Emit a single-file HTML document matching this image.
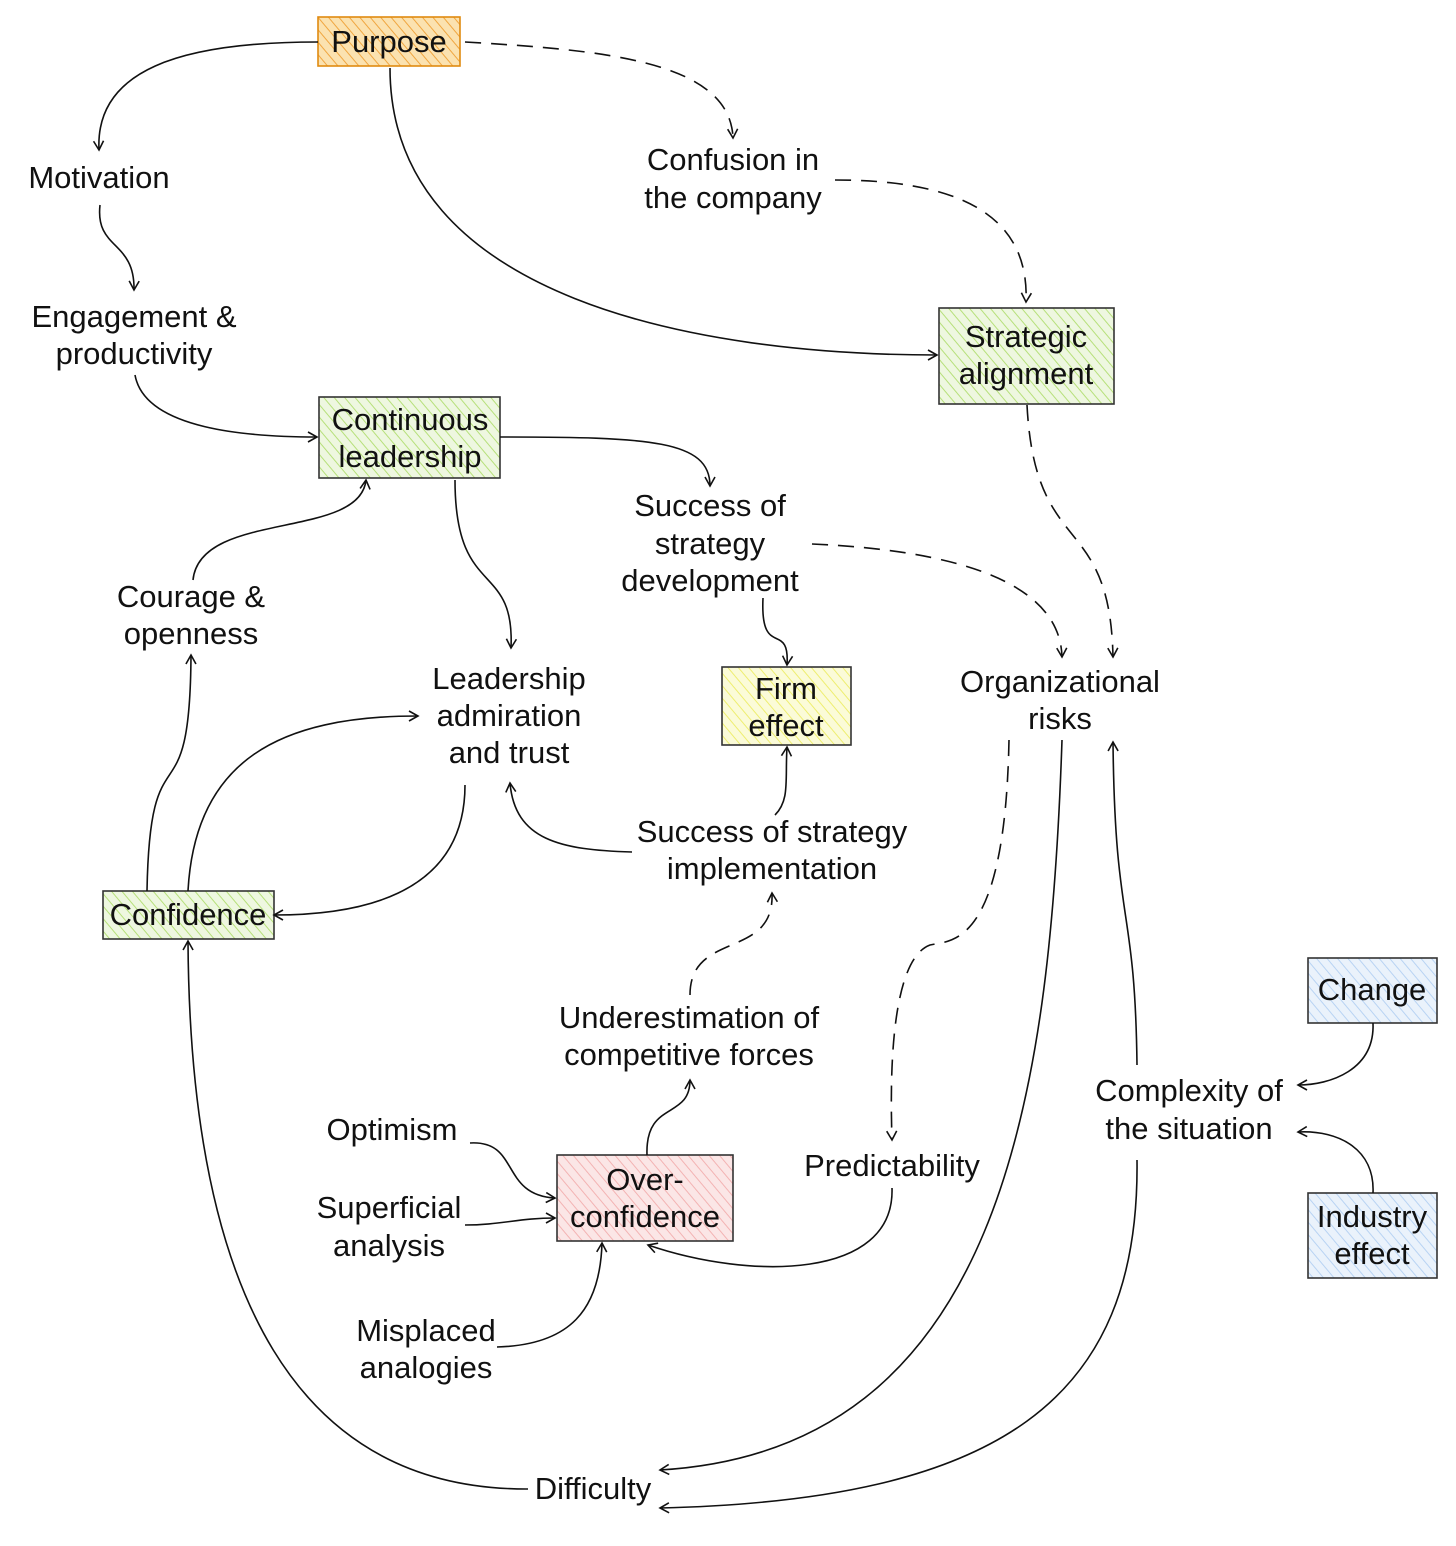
<!DOCTYPE html>
<html><head><meta charset="utf-8"><style>
html,body{margin:0;padding:0;background:#fff}
svg{display:block}
text{font-family:"Liberation Sans",sans-serif;font-size:31px;fill:#111;text-anchor:middle;dominant-baseline:middle}
</style></head><body>
<svg width="1456" height="1546" viewBox="0 0 1456 1546" xmlns="http://www.w3.org/2000/svg">
<defs>
<marker id="a" markerWidth="14" markerHeight="14" refX="11" refY="7" orient="auto" markerUnits="userSpaceOnUse">
<path d="M2,2 L11,7 L2,12" fill="none" stroke="#111" stroke-width="1.6"/>
</marker>
<pattern id="po" width="8" height="8" patternUnits="userSpaceOnUse" patternTransform="rotate(-40)"><rect width="8" height="8" fill="#fbe2b0"/><line x1="0" y1="0" x2="0" y2="8" stroke="#f0a640" stroke-width="2"/></pattern>
<pattern id="pg" width="8" height="8" patternUnits="userSpaceOnUse" patternTransform="rotate(-40)"><rect width="8" height="8" fill="#eef7e0"/><line x1="0" y1="0" x2="0" y2="8" stroke="#b6e07a" stroke-width="2"/></pattern>
<pattern id="py" width="8" height="8" patternUnits="userSpaceOnUse" patternTransform="rotate(-40)"><rect width="8" height="8" fill="#fbfbd8"/><line x1="0" y1="0" x2="0" y2="8" stroke="#eeee70" stroke-width="2"/></pattern>
<pattern id="pr" width="8" height="8" patternUnits="userSpaceOnUse" patternTransform="rotate(-40)"><rect width="8" height="8" fill="#fbe6e6"/><line x1="0" y1="0" x2="0" y2="8" stroke="#f3b3b3" stroke-width="2"/></pattern>
<pattern id="pb" width="8" height="8" patternUnits="userSpaceOnUse" patternTransform="rotate(-40)"><rect width="8" height="8" fill="#eaf2fb"/><line x1="0" y1="0" x2="0" y2="8" stroke="#b8d3f3" stroke-width="2"/></pattern>
</defs>
<g stroke="#333" stroke-width="1.6">
<rect x="318" y="17" width="142" height="49" fill="url(#po)" stroke="#e08a10"/>
<rect x="939" y="308" width="175" height="96" fill="url(#pg)"/>
<rect x="319" y="397" width="181" height="81" fill="url(#pg)"/>
<rect x="722" y="667" width="129" height="78" fill="url(#py)"/>
<rect x="103" y="891" width="171" height="48" fill="url(#pg)"/>
<rect x="557" y="1155" width="176" height="86" fill="url(#pr)"/>
<rect x="1308" y="958" width="129" height="65" fill="url(#pb)"/>
<rect x="1308" y="1193" width="129" height="85" fill="url(#pb)"/>
</g>
<g fill="none" stroke="#111" stroke-width="1.6" marker-end="url(#a)">
<path d="M318,42 C180,42 95,70 99,150"/>
<path d="M100,205 C95,250 135,240 134,290"/>
<path d="M135,375 C145,430 250,437 317,437"/>
<path d="M390,68 C390,300 700,355 937,355"/>
<path d="M465,42 C600,50 730,60 733,138" stroke-dasharray="16,10"/>
<path d="M835,180 C950,180 1030,210 1026,302" stroke-dasharray="16,10"/>
<path d="M500,437 C650,437 710,440 710,486"/>
<path d="M455,480 C455,600 515,560 511,648"/>
<path d="M812,544 C950,550 1060,580 1062,657" stroke-dasharray="16,10"/>
<path d="M1027,405 C1035,560 1110,510 1113,657" stroke-dasharray="16,10"/>
<path d="M763,598 C760,660 790,620 787,665"/>
<path d="M193,580 C200,510 360,540 366,480"/>
<path d="M147,891 C150,720 190,830 191,655"/>
<path d="M188,891 C195,760 280,716 418,716"/>
<path d="M465,785 C465,900 350,915 274,915"/>
<path d="M632,852 C560,850 515,840 510,783"/>
<path d="M775,815 C790,800 785,780 787,747"/>
<path d="M690,995 C690,930 775,960 772,893" stroke-dasharray="16,10"/>
<path d="M647,1155 C645,1100 690,1120 690,1080"/>
<path d="M470,1143 C520,1140 500,1195 555,1198"/>
<path d="M465,1225 C500,1225 520,1218 555,1218"/>
<path d="M497,1347 C570,1345 600,1310 602,1243"/>
<path d="M892,1188 C895,1280 750,1280 648,1245"/>
<path d="M1009,740 C1005,950 950,940 930,945 C890,960 890,1080 892,1140" stroke-dasharray="16,10"/>
<path d="M1062,740 C1050,1100 1000,1450 660,1470"/>
<path d="M1137,1065 C1135,900 1115,930 1113,742"/>
<path d="M1137,1160 C1140,1400 1000,1500 660,1508"/>
<path d="M528,1489 C300,1490 190,1300 188,941"/>
<path d="M1373,1023 C1375,1070 1330,1085 1298,1085"/>
<path d="M1373,1193 C1375,1150 1340,1130 1298,1132"/>
</g>
<g transform="translate(0,2)">
<text x="389" y="42">Purpose</text>
<text x="1026" y="337">Strategic</text><text x="1026" y="374">alignment</text>
<text x="410" y="420">Continuous</text><text x="410" y="457">leadership</text>
<text x="786" y="689">Firm</text><text x="786" y="726">effect</text>
<text x="188" y="915">Confidence</text>
<text x="645" y="1180">Over-</text><text x="645" y="1217">confidence</text>
<text x="1372" y="990">Change</text>
<text x="1372" y="1217">Industry</text><text x="1372" y="1254">effect</text>
<text x="99" y="178">Motivation</text>
<text x="134" y="317">Engagement &amp;</text><text x="134" y="354">productivity</text>
<text x="733" y="160">Confusion in</text><text x="733" y="198">the company</text>
<text x="710" y="506">Success of</text><text x="710" y="544">strategy</text><text x="710" y="581">development</text>
<text x="191" y="597">Courage &amp;</text><text x="191" y="634">openness</text>
<text x="509" y="679">Leadership</text><text x="509" y="716">admiration</text><text x="509" y="753">and trust</text>
<text x="1060" y="682">Organizational</text><text x="1060" y="719">risks</text>
<text x="772" y="832">Success of strategy</text><text x="772" y="869">implementation</text>
<text x="689" y="1018">Underestimation of</text><text x="689" y="1055">competitive forces</text>
<text x="1189" y="1091">Complexity of</text><text x="1189" y="1129">the situation</text>
<text x="392" y="1130">Optimism</text>
<text x="389" y="1208">Superficial</text><text x="389" y="1246">analysis</text>
<text x="892" y="1166">Predictability</text>
<text x="426" y="1331">Misplaced</text><text x="426" y="1368">analogies</text>
<text x="593" y="1489">Difficulty</text>
</g>
</svg>
</body></html>
